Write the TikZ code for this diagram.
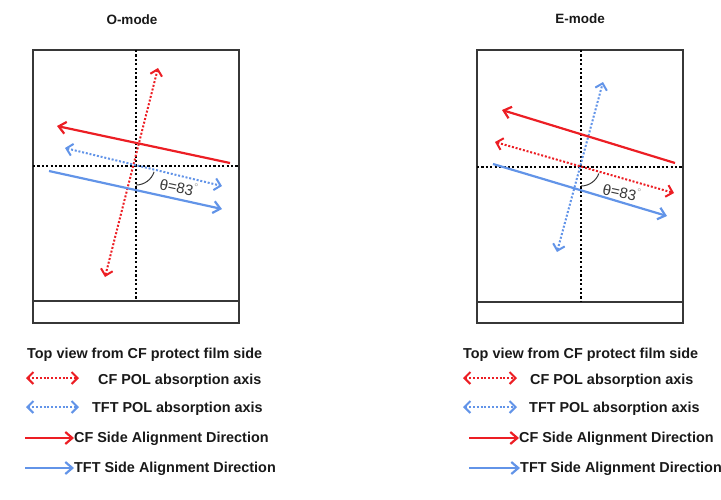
\documentclass[tikz,border=0pt]{standalone}
\usepackage{fontspec}
\setmainfont{Liberation Sans}
\usetikzlibrary{arrows.meta,positioning}
\definecolor{cfred}{RGB}{236,30,36}
\definecolor{tftblue}{RGB}{98,148,232}
\definecolor{inkgray}{RGB}{55,55,55}
\tikzset{
  guide/.style={black, line width=2.2pt, dash pattern=on 2.2pt off 2.2pt},
  panel/.style={inkgray, line width=1.1pt},
  cfaxis/.style={cfred, line width=2pt, dash pattern=on 2pt off 1.8pt,
    {Straight Barb[length=6pt,width=12pt]}-{Straight Barb[length=6pt,width=12pt]}},
  tftaxis/.style={tftblue, line width=2pt, dash pattern=on 2pt off 1.8pt,
    {Straight Barb[length=6pt,width=12pt]}-{Straight Barb[length=6pt,width=12pt]}},
  cfrub/.style={cfred, line width=2.2pt, -{Straight Barb[length=7pt,width=12pt]}},
  tftrub/.style={tftblue, line width=2.2pt, -{Straight Barb[length=7pt,width=12pt]}},
  legend/.style={anchor=base west, inner sep=0pt, font=\fontsize{14.4}{17}\selectfont\bfseries, text=black!90},
  title/.style={font=\fontsize{13.5}{16}\selectfont\bfseries, text=black!90},
  angle/.style={font=\fontsize{15}{17}\selectfont, text=inkgray, rotate=-12}
}
\begin{document}
\begin{tikzpicture}[x=1pt,y=-1pt]
  \useasboundingbox (0,0) rectangle (721,499);

  % O-mode
  \node[title] (otitle) at (132,20) {O-mode};
  \draw[panel] (33,50) rectangle (239,323);
  \draw[panel] (33,301) -- (239,301);
  \draw[guide] (136,50) -- (136,300);
  \draw[guide] (33,166) -- (238,166);
  \draw[cfaxis] (105,277) -- (158,68);
  \draw[tftaxis] (65,148) -- (222,186);
  \draw[cfrub] (230,163) -- (57,126);
  \draw[tftrub] (49,171) -- (222,209);
  \draw[inkgray, line width=1pt] (136,166) ++(90:19) arc[start angle=90, end angle=18, radius=19];
  \node[angle] (otheta) at (179,187) {θ=83\textsuperscript{\textcolor{black!35}{°}}};

  % E-mode
  \node[title] (etitle) at (580,19) {E-mode};
  \draw[panel] (477,50) rectangle (683,323);
  \draw[panel] (477,302) -- (683,302);
  \draw[guide] (581,50) -- (581,301);
  \draw[guide] (477,167) -- (683,167);
  \draw[tftaxis] (557,252) -- (603,82);
  \draw[cfaxis] (495,142) -- (674,193);
  \draw[cfrub] (675,163) -- (502,110);
  \draw[tftrub] (493,164) -- (667,216);
  \draw[inkgray, line width=1pt] (581,167) ++(90:19) arc[start angle=90, end angle=20, radius=19];
  \node[angle] (etheta) at (622,192) {θ=83\textsuperscript{\textcolor{black!35}{°}}};

  % legend, O-mode side
  \node[legend] (lhead) at (27,358) {Top view from CF protect film side};
  \node[legend] (lcfpol) at (98,384) {CF POL absorption axis};
  \node[legend] (ltftpol) at (92,412) {TFT POL absorption axis};
  \node[legend] (lcfside) at (74,442) {CF Side Alignment Direction};
  \node[legend] (ltftside) at (74,472) {TFT Side Alignment Direction};
  \coordinate (la1) at (26,378);  \coordinate (lb1) at (79,378);
  \coordinate (la2) at (26,407);  \coordinate (lb2) at (79,407);
  \coordinate (la3) at (25,438);  \coordinate (lb3) at (lcfside.west |- la3);
  \coordinate (la4) at (25,468);  \coordinate (lb4) at (ltftside.west |- la4);
  \draw[cfaxis] (la1) -- (lb1);
  \draw[tftaxis] (la2) -- (lb2);
  \draw[cfrub] (la3) -- (lb3);
  \draw[tftrub] (la4) -- (lb4);

  % legend, E-mode side
  \node[legend] (rhead) at (463,358) {Top view from CF protect film side};
  \node[legend] (rcfpol) at (530,384) {CF POL absorption axis};
  \node[legend] (rtftpol) at (529,412) {TFT POL absorption axis};
  \node[legend] (rcfside) at (519,442) {CF Side Alignment Direction};
  \node[legend] (rtftside) at (520,472) {TFT Side Alignment Direction};
  \coordinate (ra1) at (463,378);  \coordinate (rb1) at (517,378);
  \coordinate (ra2) at (463,407);  \coordinate (rb2) at (517,407);
  \coordinate (ra3) at (469,438);  \coordinate (rb3) at (rcfside.west |- ra3);
  \coordinate (ra4) at (469,468);  \coordinate (rb4) at (rtftside.west |- ra4);
  \draw[cfaxis] (ra1) -- (rb1);
  \draw[tftaxis] (ra2) -- (rb2);
  \draw[cfrub] (ra3) -- (rb3);
  \draw[tftrub] (ra4) -- (rb4);
\end{tikzpicture}
\end{document}
